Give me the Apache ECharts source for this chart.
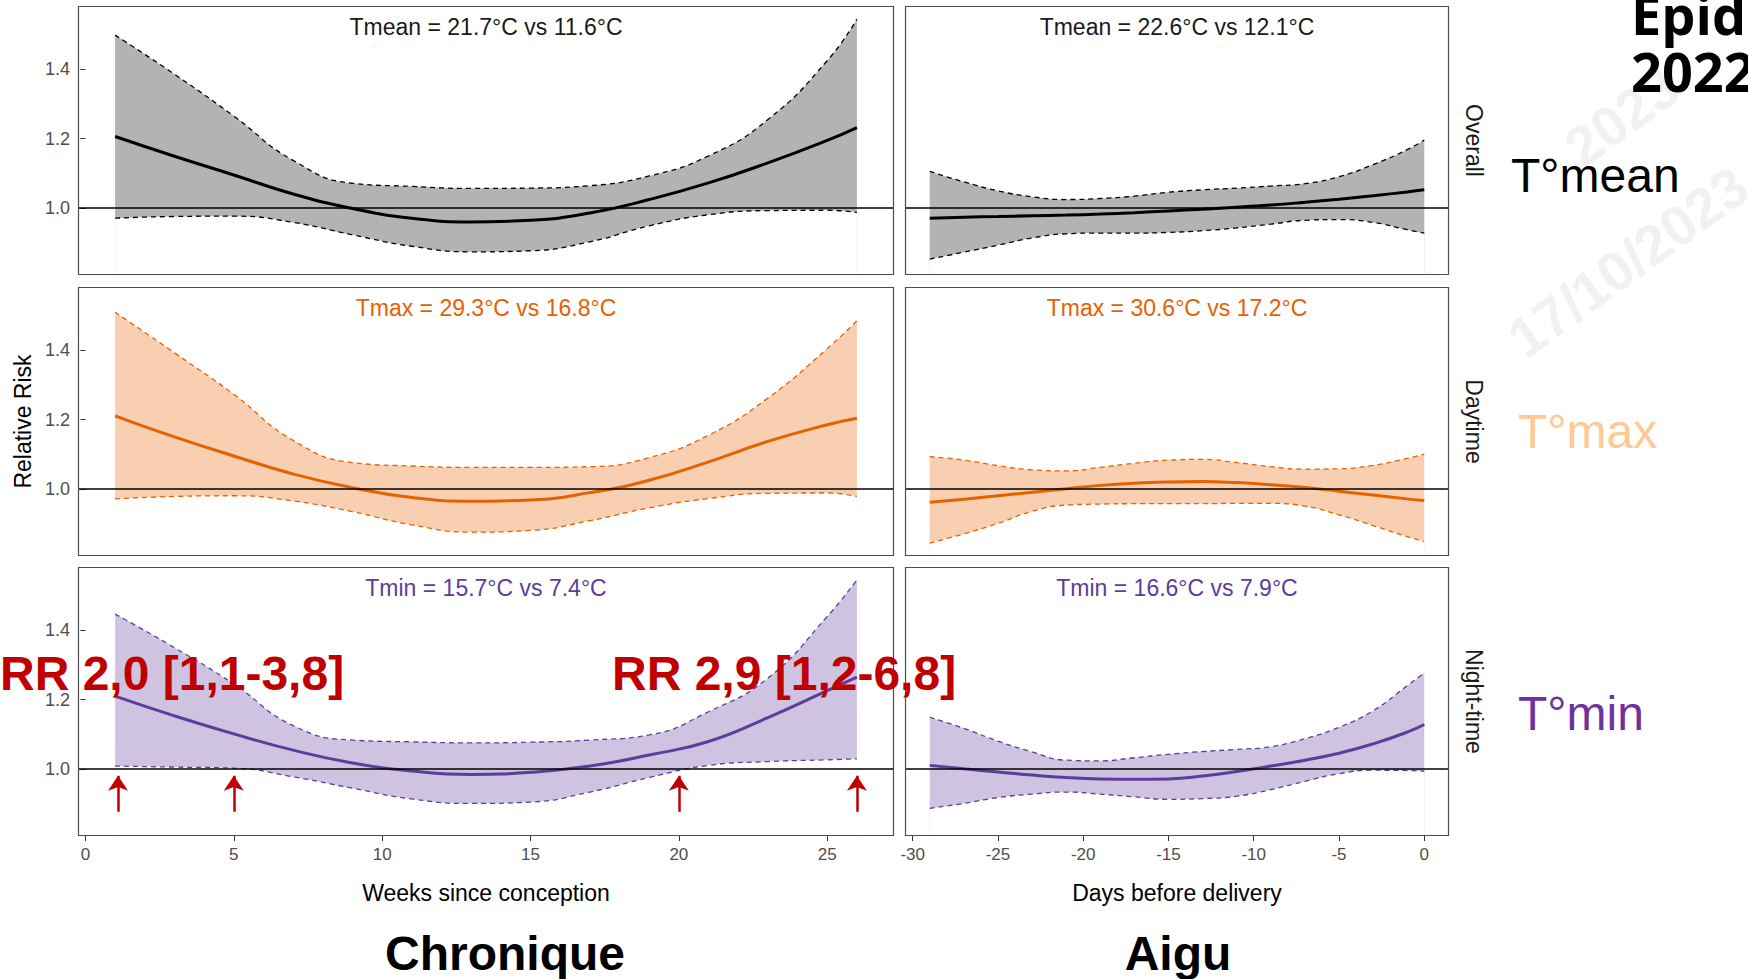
<!DOCTYPE html>
<html>
<head>
<meta charset="utf-8">
<script src="https://cdn.jsdelivr.net/npm/echarts@6/dist/echarts.min.js"></script>
<style>
html,body{margin:0;padding:0;background:#fff;}
#chart{width:1748px;height:979px;}
</style>
</head>
<body>
<div id="chart"></div>
<script>
// ---------------- DATA ----------------
const weeks = [1, 3, 5, 7, 9, 11, 13, 15, 17, 19, 21, 23, 25, 26];
const days = [-29, -27, -25, -23, -21, -19, -17, -15, -13, -11, -9, -7, -5, -3, -1, 0];

// Chronic (weeks since conception)
const chrTmeanRR   = [1.206, 1.149, 1.095, 1.040, 0.998, 0.970, 0.959, 0.964, 0.985, 1.024, 1.072, 1.130, 1.195, 1.232];
const chrTmeanLow  = [0.970, 0.975, 0.976, 0.958, 0.922, 0.889, 0.873, 0.876, 0.902, 0.948, 0.980, 0.992, 0.993, 0.987];
const chrTmeanHigh = [1.499, 1.386, 1.265, 1.137, 1.071, 1.062, 1.056, 1.057, 1.064, 1.092, 1.150, 1.255, 1.425, 1.545];

const chrTmaxRR   = [1.211, 1.150, 1.095, 1.043, 1.003, 0.975, 0.964, 0.968, 0.989, 1.025, 1.078, 1.137, 1.185, 1.204];
const chrTmaxLow  = [0.971, 0.978, 0.980, 0.965, 0.934, 0.896, 0.875, 0.880, 0.908, 0.945, 0.972, 0.987, 0.988, 0.978];
const chrTmaxHigh = [1.510, 1.393, 1.273, 1.140, 1.076, 1.066, 1.062, 1.062, 1.064, 1.090, 1.155, 1.262, 1.405, 1.485];

const chrTminRR   = [1.210, 1.153, 1.101, 1.054, 1.017, 0.994, 0.984, 0.990, 1.008, 1.040, 1.079, 1.148, 1.226, 1.265];
const chrTminLow  = [1.008, 1.005, 1.002, 0.977, 0.944, 0.913, 0.900, 0.904, 0.933, 0.975, 1.010, 1.021, 1.026, 1.029];
const chrTminHigh = [1.447, 1.350, 1.245, 1.125, 1.083, 1.078, 1.075, 1.077, 1.083, 1.098, 1.165, 1.262, 1.440, 1.546];

// Acute (days before delivery)
const acuTmeanRR   = [0.970, 0.973, 0.975, 0.977, 0.979, 0.982, 0.986, 0.991, 0.996, 1.002, 1.008, 1.016, 1.025, 1.035, 1.046, 1.052];
const acuTmeanLow  = [0.852, 0.872, 0.892, 0.913, 0.925, 0.927, 0.927, 0.929, 0.934, 0.942, 0.953, 0.964, 0.966, 0.958, 0.937, 0.927];
const acuTmeanHigh = [1.105, 1.075, 1.049, 1.032, 1.024, 1.027, 1.034, 1.045, 1.052, 1.057, 1.063, 1.070, 1.090, 1.125, 1.168, 1.196];

const acuTmaxRR   = [0.961, 0.970, 0.980, 0.990, 1.000, 1.010, 1.016, 1.020, 1.021, 1.018, 1.012, 1.004, 0.993, 0.982, 0.971, 0.966];
const acuTmaxLow  = [0.843, 0.870, 0.900, 0.935, 0.953, 0.956, 0.957, 0.957, 0.957, 0.958, 0.958, 0.950, 0.925, 0.894, 0.862, 0.848];
const acuTmaxHigh = [1.093, 1.083, 1.067, 1.055, 1.052, 1.062, 1.074, 1.083, 1.085, 1.076, 1.064, 1.057, 1.058, 1.068, 1.088, 1.100];

const acuTminRR   = [1.010, 1.000, 0.991, 0.982, 0.975, 0.971, 0.970, 0.971, 0.979, 0.992, 1.008, 1.025, 1.045, 1.072, 1.106, 1.128];
const acuTminLow  = [0.886, 0.900, 0.917, 0.927, 0.933, 0.927, 0.919, 0.912, 0.914, 0.921, 0.940, 0.964, 0.986, 0.996, 0.995, 0.993];
const acuTminHigh = [1.149, 1.117, 1.080, 1.049, 1.025, 1.023, 1.032, 1.042, 1.050, 1.056, 1.064, 1.087, 1.120, 1.168, 1.240, 1.277];

// Tick labels
const weekTicks = [0, 5, 10, 15, 20, 25];
const dayTicks = [-30, -25, -20, -15, -10, -5, 0];
const rrTicks = [1.0, 1.2, 1.4];

// Text
const panelTitles = [
  'Tmean = 21.7°C vs 11.6°C', 'Tmean = 22.6°C vs 12.1°C',
  'Tmax = 29.3°C vs 16.8°C', 'Tmax = 30.6°C vs 17.2°C',
  'Tmin = 15.7°C vs 7.4°C', 'Tmin = 16.6°C vs 7.9°C'
];
const stripLabels = ['Overall', 'Daytime', 'Night-time'];
const bigLabels = ['T°mean', 'T°max', 'T°min'];
const rrNotes = ['RR 2,0 [1,1-3,8]', 'RR 2,9 [1,2-6,8]'];
const arrowWeeks = [1.1, 5, 20, 26];
const arrowFrom = 0.876, arrowTo = 0.98;

// ---------------- LAYOUT / STYLE ----------------
const FONT = '"Liberation Sans", Arial, sans-serif';
const HEAD_FONT = '"Open Sans", "DejaVu Sans", sans-serif';
const gridLeft = [78, 905], gridWidth = [816, 544];
const gridTop = [6, 287, 567], gridHeight = 269;
const xRange = [[-0.25, 27.25], [-30.45, 1.45]];
const yMin = 0.806, yMax = 1.583;
const rowStyle = [
  {line: '#000000', fill: '#B3B3B3', title: '#1a1a1a'},
  {line: '#E66100', fill: '#F8CFB1', title: '#E66100'},
  {line: '#5E3C99', fill: '#CEC4E1', title: '#5E3C99'}
];
const bigColors = ['#000000', '#FFC995', '#7030A0'];

const panelData = [
  [weeks, chrTmeanLow, chrTmeanRR, chrTmeanHigh], [days, acuTmeanLow, acuTmeanRR, acuTmeanHigh],
  [weeks, chrTmaxLow, chrTmaxRR, chrTmaxHigh],    [days, acuTmaxLow, acuTmaxRR, acuTmaxHigh],
  [weeks, chrTminLow, chrTminRR, chrTminHigh],    [days, acuTminLow, acuTminRR, acuTminHigh]
];

const zip = (xs, ys) => xs.map((x, i) => [x, ys[i]]);

const grids = [], xAxes = [], yAxes = [], series = [], graphics = [];

for (let r = 0; r < 3; r++) {
  for (let c = 0; c < 2; c++) {
    const i = r * 2 + c;
    const st = rowStyle[r];
    grids.push({left: gridLeft[c], top: gridTop[r], width: gridWidth[c], height: gridHeight,
      show: true, backgroundColor: '#ffffff', borderWidth: 0, containLabel: false});
    const bottom = r === 2;
    const xt = c === 0 ? weekTicks : dayTicks;
    const xa = {
      type: 'value', gridIndex: i, min: xRange[c][0], max: xRange[c][1],
      axisLine: {show: false}, splitLine: {show: false},
      axisTick: {show: bottom, customValues: xt, length: 5, lineStyle: {color: '#333333', width: 1}},
      axisLabel: {show: bottom, customValues: xt, color: '#4d4d4d', fontSize: 17, fontFamily: FONT, margin: 10}
    };
    if (bottom) {
      xa.name = c === 0 ? 'Weeks since conception' : 'Days before delivery';
      xa.nameLocation = 'middle';
      xa.nameGap = 45;
      xa.nameTextStyle = {color: '#000000', fontSize: 23, fontFamily: FONT};
    }
    xAxes.push(xa);
    const ya = {
      type: 'value', gridIndex: i, min: yMin, max: yMax,
      axisLine: {show: false}, splitLine: {show: false},
      axisTick: {show: c === 0, customValues: rrTicks, length: 5, lineStyle: {color: '#333333', width: 1}},
      axisLabel: {show: c === 0, customValues: rrTicks, color: '#4d4d4d', fontSize: 18, fontFamily: FONT, margin: 8,
        formatter: v => Number(v).toFixed(1)}
    };
    if (c === 0 && r === 1) {
      ya.name = 'Relative Risk';
      ya.nameLocation = 'middle';
      ya.nameRotate = 90;
      ya.nameGap = 44;
      ya.nameTextStyle = {color: '#000000', fontSize: 23, fontFamily: FONT};
    }
    yAxes.push(ya);

    const [xs, lo, rr, hi] = panelData[i];
    const common = {type: 'line', xAxisIndex: i, yAxisIndex: i, symbol: 'none', smooth: 0.5,
      silent: true, animation: false};
    series.push(Object.assign({}, common, {name: 'upper-band-' + i, data: zip(xs, hi), z: 1,
      lineStyle: {width: 0, opacity: 0}, areaStyle: {color: st.fill, opacity: 1, origin: 'start'}}));
    series.push(Object.assign({}, common, {name: 'lower-mask-' + i, data: zip(xs, lo), z: 2,
      lineStyle: {width: 0, opacity: 0}, areaStyle: {color: '#ffffff', opacity: 1, origin: 'start'}}));
    series.push(Object.assign({}, common, {name: 'upper-' + i, data: zip(xs, hi), z: 3,
      lineStyle: {width: 1.3, color: st.line, type: [5, 4]}}));
    series.push(Object.assign({}, common, {name: 'lower-' + i, data: zip(xs, lo), z: 3,
      lineStyle: {width: 1.3, color: st.line, type: [5, 4]}}));
    const mlData = [{yAxis: 1, symbol: 'none', lineStyle: {color: '#000000', width: 1.6, type: 'solid'}}];
    if (i === 4) {
      arrowWeeks.forEach(w => {
        mlData.push([
          {coord: [w, arrowFrom], symbol: 'none', lineStyle: {color: '#C00000', width: 2.5, type: 'solid'}},
          {coord: [w, arrowTo], symbol: 'arrow', symbolSize: [15, 15]}
        ]);
      });
    }
    series.push(Object.assign({}, common, {name: 'RR-' + i, data: zip(xs, rr), z: 4,
      lineStyle: {width: 3, color: st.line},
      markLine: {silent: true, animation: false, symbol: 'none', label: {show: false},
        emphasis: {disabled: true}, data: mlData}}));

    // panel title
    graphics.push({type: 'text', z: 50, x: gridLeft[c] + gridWidth[c] / 2, y: gridTop[r] + 21,
      style: {text: panelTitles[i], fill: st.title, font: '23px ' + FONT, textAlign: 'center', textVerticalAlign: 'middle'}});
    // panel border
    graphics.push({type: 'rect', z: 60, silent: true,
      shape: {x: gridLeft[c] + 0.5, y: gridTop[r] + 0.5, width: gridWidth[c] - 1, height: gridHeight - 1},
      style: {fill: 'none', stroke: '#4d4d4d', lineWidth: 1.2}});
  }
  // strip label
  graphics.push({type: 'text', z: 50, x: 1474, y: gridTop[r] + gridHeight / 2, rotation: -Math.PI / 2,
    style: {text: stripLabels[r], fill: '#1a1a1a', font: '23px ' + FONT, textAlign: 'center', textVerticalAlign: 'middle'}});
  // big label
  graphics.push({type: 'text', z: 50, x: r === 0 ? 1511 : 1518, y: [175, 431, 713][r],
    style: {text: bigLabels[r], fill: bigColors[r], font: '48px ' + FONT, textAlign: 'left', textVerticalAlign: 'middle'}});
}

// watermarks (faint)
graphics.push({type: 'text', z: 0, x: 1628, y: 262, rotation: 36 * Math.PI / 180,
  style: {text: '17/10/2023', fill: '#f1f1f1', font: 'bold 56px ' + FONT, textAlign: 'center', textVerticalAlign: 'middle'}});
graphics.push({type: 'text', z: 0, x: 1622, y: 117, rotation: 36 * Math.PI / 180,
  style: {text: '2023', fill: '#f1f1f1', font: 'bold 56px ' + FONT, textAlign: 'center', textVerticalAlign: 'middle'}});

// headline top-right (cut by page edge as in the slide)
graphics.push({type: 'text', z: 50, x: 1631, y: 14,
  style: {text: 'Epidémiologie', fill: '#000000', font: 'bold 54px ' + HEAD_FONT, textAlign: 'left', textVerticalAlign: 'middle'}});
graphics.push({type: 'text', z: 50, x: 1631, y: 71,
  style: {text: '2022', fill: '#000000', font: 'bold 54px ' + HEAD_FONT, textAlign: 'left', textVerticalAlign: 'middle'}});

// RR annotations
graphics.push({type: 'text', z: 70, x: 0, y: 673,
  style: {text: rrNotes[0], fill: '#C00000', font: 'bold 48px ' + FONT, textAlign: 'left', textVerticalAlign: 'middle'}});
graphics.push({type: 'text', z: 70, x: 612, y: 673,
  style: {text: rrNotes[1], fill: '#C00000', font: 'bold 48px ' + FONT, textAlign: 'left', textVerticalAlign: 'middle'}});

// column titles
graphics.push({type: 'text', z: 50, x: 505, y: 953,
  style: {text: 'Chronique', fill: '#000000', font: 'bold 48px ' + FONT, textAlign: 'center', textVerticalAlign: 'middle'}});
graphics.push({type: 'text', z: 50, x: 1178, y: 953,
  style: {text: 'Aigu', fill: '#000000', font: 'bold 48px ' + FONT, textAlign: 'center', textVerticalAlign: 'middle'}});

const chart = echarts.init(document.getElementById('chart'), null, {renderer: 'svg', width: 1748, height: 979});
chart.setOption({
  backgroundColor: '#ffffff',
  animation: false,
  textStyle: {fontFamily: FONT},
  grid: grids,
  xAxis: xAxes,
  yAxis: yAxes,
  series: series,
  graphic: {elements: graphics}
});
</script>
</body>
</html>
